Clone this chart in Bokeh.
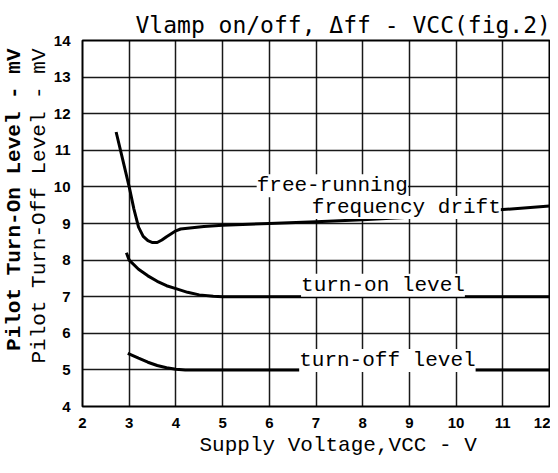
from bokeh.plotting import figure
from bokeh.models import Range1d, Label, FixedTicker, Title
from bokeh.embed import file_html
from bokeh.resources import INLINE

# ---- data ----
free_x = [2.72, 2.86, 3.0, 3.1, 3.2, 3.3, 3.4, 3.5, 3.6, 3.7, 3.8, 3.9, 4.0, 4.1, 4.3, 4.6, 5.0, 6, 7, 8, 9, 10, 11, 12]
free_y = [11.5, 10.75, 10.0, 9.4, 8.9, 8.65, 8.53, 8.48, 8.48, 8.55, 8.64, 8.72, 8.8, 8.85, 8.88, 8.92, 8.95, 9.0, 9.05, 9.1, 9.17, 9.27, 9.38, 9.48]

on_x = [2.94, 3.0, 3.2, 3.4, 3.6, 3.8, 4.0, 4.25, 4.5, 4.8, 5.0, 12]
on_y = [8.2, 8.0, 7.75, 7.57, 7.42, 7.3, 7.22, 7.12, 7.05, 7.01, 7.0, 7.0]

off_x = [2.97, 3.2, 3.4, 3.6, 3.8, 4.0, 4.2, 12]
off_y = [5.45, 5.32, 5.21, 5.12, 5.06, 5.02, 5.0, 5.0]

x_ticks = [2, 3, 4, 5, 6, 7, 8, 9, 10, 11, 12]
y_ticks = [4, 5, 6, 7, 8, 9, 10, 11, 12, 13, 14]

title_text = "Vlamp on/off, \u0394ff - VCC(fig.2)"
x_title = "Supply Voltage,VCC - V"
y_title_1 = "Pilot Turn-On Level - mV"
y_title_2 = "Pilot Turn-Off Level - mV"

MONO = "Liberation Mono"

p = figure(width=550, height=457, output_backend="svg", toolbar_location=None,
           x_range=Range1d(2, 12), y_range=Range1d(4, 14),
           min_border_left=82, min_border_right=1, min_border_top=40, min_border_bottom=48,
           background_fill_color="white", border_fill_color="white")

p.outline_line_color = "black"
p.outline_line_width = 2

for ax, ticks in ((p.xaxis, x_ticks), (p.yaxis, y_ticks)):
    ax.ticker = FixedTicker(ticks=ticks)
    ax.axis_line_color = None
    ax.major_tick_line_color = None
    ax.minor_tick_line_color = None
    ax.major_label_text_font = "Liberation Sans"
    ax.major_label_text_font_style = "bold"
    ax.major_label_text_font_size = "15px"
    ax.major_label_text_color = "black"
p.xaxis.major_label_standoff = 5
p.yaxis.major_label_standoff = 6

for g in (p.xgrid, p.ygrid):
    g.grid_line_color = "black"
    g.grid_line_width = 1.5
    g.grid_line_alpha = 0.9

p.line(free_x, free_y, line_color="black", line_width=3)
p.line(on_x, on_y, line_color="black", line_width=3)
p.line(off_x, off_y, line_color="black", line_width=3)

def dlabel(x, y, text):
    p.add_layout(Label(x=x, y=y, text=text, text_font=MONO, text_font_size="21px",
                       text_color="black", text_baseline="alphabetic", text_align="left",
                       background_fill_color="white", padding=0))

dlabel(6.91, 9.44, "frequency drift")
dlabel(5.73, 10.03, "free-running")
dlabel(6.68, 7.31, "turn-on level")
dlabel(6.64, 5.26, "turn-off level")

# main title
p.title.text = title_text
p.title.align = "left"
p.title.offset = 53
p.title.text_font = "DejaVu Sans Mono"
p.title.text_font_size = "23px"
p.title.text_font_style = "normal"
p.title.text_color = "black"
p.title.standoff = 6

# x-axis title
p.add_layout(Title(text=x_title, align="left", offset=117, text_font=MONO,
                   text_font_size="21px", text_font_style="normal", text_color="black",
                   standoff=2), "below")

# y-axis titles (two lines, aligned at the top end)
p.add_layout(Title(text=y_title_2, align="right", offset=8, text_font=MONO,
                   text_font_size="21px", text_font_style="normal", text_color="black",
                   standoff=0), "left")
p.add_layout(Title(text=y_title_1, align="right", offset=8, text_font=MONO,
                   text_font_size="21px", text_font_style="bold", text_color="black",
                   standoff=0), "left")

open("out.html", "w").write(file_html(p, INLINE))
